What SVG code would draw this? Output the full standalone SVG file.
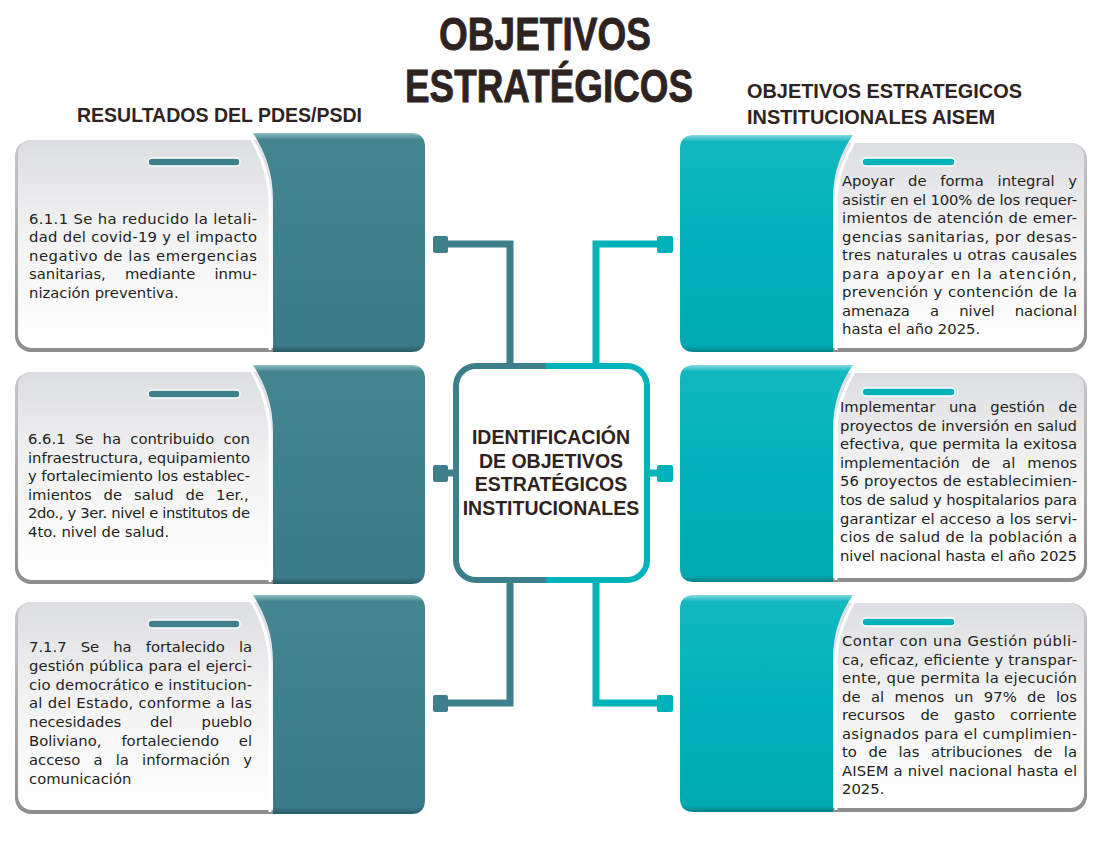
<svg xmlns="http://www.w3.org/2000/svg" xmlns:xlink="http://www.w3.org/1999/xlink" width="1100" height="850" viewBox="0 0 1100 850">
<style>
.ttl{font-family:"Liberation Sans",Arial,sans-serif;font-weight:bold;fill:#2e2320}
.big{stroke:#2e2320;stroke-width:0.8}
.body{font-family:"DejaVu Sans","Liberation Sans",sans-serif;font-size:14.8px;fill:#231f20}
.ctr{font-family:"Liberation Sans",Arial,sans-serif;font-weight:bold;font-size:19.5px;fill:#2e2320;text-anchor:middle}
.gshadow{fill:url(#gShade)}
.gface{fill:url(#gFace)}
.lc{stroke:#3e7f8c;stroke-width:7;fill:none}
.rc{stroke:#00b3bb;stroke-width:7;fill:none}
.lsq{fill:#3e7f8c}
.rsq{fill:#00b3bb}
</style>
<defs>
<linearGradient id="gShade" x1="0" y1="0" x2="0" y2="1">
<stop offset="0" stop-color="#c9c9cb"/><stop offset="1" stop-color="#8e8e8e"/>
</linearGradient>
<linearGradient id="gFace" x1="0" y1="0" x2="0" y2="1">
<stop offset="0" stop-color="#dddee1"/><stop offset="0.45" stop-color="#f2f2f3"/><stop offset="1" stop-color="#ffffff"/>
</linearGradient>
<linearGradient id="tealL" x1="0" y1="0" x2="0" y2="1">
<stop offset="0" stop-color="#8dbdc4"/><stop offset="0.03" stop-color="#44858f"/><stop offset="0.5" stop-color="#3f808d"/><stop offset="0.97" stop-color="#3b7a88"/><stop offset="1" stop-color="#285a64"/>
</linearGradient>
<linearGradient id="tealR" x1="0" y1="0" x2="0" y2="1">
<stop offset="0" stop-color="#86dadd"/><stop offset="0.03" stop-color="#12b7bf"/><stop offset="0.5" stop-color="#00b2ba"/><stop offset="0.97" stop-color="#00aab2"/><stop offset="1" stop-color="#008189"/>
</linearGradient>
<linearGradient id="split" x1="0" y1="0" x2="1" y2="0">
<stop offset="0" stop-color="#3e7f8c"/><stop offset="0.47" stop-color="#3e7f8c"/><stop offset="0.47" stop-color="#00b3bb"/><stop offset="1" stop-color="#00b3bb"/>
</linearGradient>
<g id="leftShape">
<rect class="gshadow" x="15" y="140" width="292" height="212" rx="16"/>
<rect class="gface" x="18" y="140" width="288" height="208" rx="14"/>
<path d="M249,135 C261,154 269,174 270,200 V350" fill="none" stroke="#ffffff" stroke-width="3"/>
<path d="M253,133 H411 Q425,133 425,147 V338 Q425,352 411,352 H273 V200 C273,172 265,152 253,133 Z" fill="url(#tealL)"/>
<rect x="148" y="158" width="92" height="8" rx="4" fill="#3f808d" stroke="#ffffff" stroke-width="1.5"/>
</g>
<g id="rightShape">
<rect class="gshadow" x="800" y="143" width="287" height="209" rx="16"/>
<rect class="gface" x="800" y="143" width="284" height="205" rx="14"/>
<path d="M857,137 C845,156 837,176 836,200 V350" fill="none" stroke="#ffffff" stroke-width="3"/>
<path d="M853,135 H694 Q680,135 680,149 V338 Q680,352 694,352 H833 V200 C833,172 841,152 853,135 Z" fill="url(#tealR)"/>
<rect x="862" y="158" width="93" height="8" rx="4" fill="#00b3bb" stroke="#ffffff" stroke-width="1.5"/>
</g>
</defs>

<g id="title">
<text class="ttl big" x="545" y="50" font-size="46" text-anchor="middle" textLength="212" lengthAdjust="spacingAndGlyphs">OBJETIVOS</text>
<text class="ttl big" x="549" y="102" font-size="46" text-anchor="middle" textLength="288" lengthAdjust="spacingAndGlyphs">ESTRATÉGICOS</text>
</g>
<g id="heading-left">
<text class="ttl" x="77" y="122" font-size="20" textLength="285" lengthAdjust="spacingAndGlyphs">RESULTADOS DEL PDES/PSDI</text>
</g>
<g id="heading-right">
<text class="ttl" x="747" y="98" font-size="20" textLength="275" lengthAdjust="spacingAndGlyphs">OBJETIVOS ESTRATEGICOS</text>
<text class="ttl" x="747" y="124" font-size="20" textLength="248" lengthAdjust="spacingAndGlyphs">INSTITUCIONALES AISEM</text>
</g>

<g id="connectors">
<path class="lc" d="M446,244 H510 V366"/>
<rect class="lsq" x="433" y="236" width="15" height="17" rx="2"/>
<path class="lc" d="M446,473 H457"/>
<rect class="lsq" x="433" y="465" width="15" height="17" rx="2"/>
<path class="lc" d="M510,580 V703 H446"/>
<rect class="lsq" x="433" y="695" width="15" height="17" rx="2"/>
<path class="rc" d="M659,244 H596 V366"/>
<rect class="rsq" x="657" y="236" width="16" height="17" rx="2"/>
<path class="rc" d="M646,473 H659"/>
<rect class="rsq" x="657" y="465" width="16" height="17" rx="2"/>
<path class="rc" d="M596,580 V703 H659"/>
<rect class="rsq" x="657" y="695" width="16" height="17" rx="2"/>
</g>

<g id="center">
<rect x="456" y="366" width="191" height="214" rx="20" fill="#ffffff" stroke="url(#split)" stroke-width="6"/>
<text class="ctr" x="551" y="444">IDENTIFICACIÓN</text>
<text class="ctr" x="551" y="467.5">DE OBJETIVOS</text>
<text class="ctr" x="551" y="491">ESTRATÉGICOS</text>
<text class="ctr" x="551" y="514.5">INSTITUCIONALES</text>
</g>

<g id="res-611">
<use xlink:href="#leftShape"/>
<text class="body">
<tspan x="29" y="224" textLength="228" lengthAdjust="spacing">6.1.1 Se ha reducido la letali-</tspan>
<tspan x="29" y="242.4" textLength="228" lengthAdjust="spacing">dad del covid-19 y el impacto</tspan>
<tspan x="29" y="260.8" textLength="228" lengthAdjust="spacing">negativo de las emergencias</tspan>
<tspan x="29" y="279.2">sanitarias,</tspan><tspan x="124.9">mediante</tspan><tspan x="214.4">inmu-</tspan>
<tspan x="29" y="297.6">nización preventiva.</tspan>
</text>
</g>

<g id="res-661">
<use xlink:href="#leftShape" y="232"/>
<text class="body">
<tspan x="28" y="444">6.6.1</tspan><tspan x="74.9">Se</tspan><tspan x="102.6">ha</tspan><tspan x="130.3">contribuido</tspan><tspan x="223.4">con</tspan>
<tspan x="28" y="462.5" textLength="222" lengthAdjust="spacing">infraestructura, equipamiento</tspan>
<tspan x="28" y="481" textLength="222" lengthAdjust="spacing">y fortalecimiento los establec-</tspan>
<tspan x="28" y="499.5">imientos</tspan><tspan x="103.6">de</tspan><tspan x="134">salud</tspan><tspan x="185.6">de</tspan><tspan x="216">1er.,</tspan>
<tspan x="28" y="518" textLength="222" lengthAdjust="spacing">2do., y 3er. nivel e institutos de</tspan>
<tspan x="28" y="536.5">4to. nivel de salud.</tspan>
</text>
</g>

<g id="res-717">
<use xlink:href="#leftShape" y="462"/>
<text class="body">
<tspan x="29" y="652">7.1.7</tspan><tspan x="80.7">Se</tspan><tspan x="113.2">ha</tspan><tspan x="145.7">fortalecido</tspan><tspan x="238.9">la</tspan>
<tspan x="29" y="670.8" textLength="223" lengthAdjust="spacing">gestión pública para el ejerci-</tspan>
<tspan x="29" y="689.6" textLength="223" lengthAdjust="spacing">cio democrático e institucion-</tspan>
<tspan x="29" y="708.4" textLength="223" lengthAdjust="spacing">al del Estado, conforme a las</tspan>
<tspan x="29" y="727.2">necesidades</tspan><tspan x="150">del</tspan><tspan x="201.5">pueblo</tspan>
<tspan x="29" y="746">Boliviano,</tspan><tspan x="121.4">fortaleciendo</tspan><tspan x="238.8">el</tspan>
<tspan x="29" y="764.8">acceso</tspan><tspan x="93.4">a</tspan><tspan x="115.7">la</tspan><tspan x="142.1">información</tspan><tspan x="243.3">y</tspan>
<tspan x="29" y="783.6">comunicación</tspan>
</text>
</g>

<g id="obj-1">
<use xlink:href="#rightShape"/>
<text class="body">
<tspan x="842" y="186">Apoyar</tspan><tspan x="908.1">de</tspan><tspan x="940.2">forma</tspan><tspan x="997.6">integral</tspan><tspan x="1068.3">y</tspan>
<tspan x="842" y="204.5" textLength="235" lengthAdjust="spacing">asistir en el 100% de los requer-</tspan>
<tspan x="842" y="223" textLength="235" lengthAdjust="spacing">imientos de atención de emer-</tspan>
<tspan x="842" y="241.5" textLength="235" lengthAdjust="spacing">gencias sanitarias, por desas-</tspan>
<tspan x="842" y="260" textLength="235" lengthAdjust="spacing">tres naturales u otras causales</tspan>
<tspan x="842" y="278.5" textLength="235" lengthAdjust="spacing">para apoyar en la atención,</tspan>
<tspan x="842" y="297" textLength="235" lengthAdjust="spacing">prevención y contención de la</tspan>
<tspan x="842" y="315.5">amenaza</tspan><tspan x="930">a</tspan><tspan x="959.2">nivel</tspan><tspan x="1014.7">nacional</tspan>
<tspan x="842" y="334">hasta el año 2025.</tspan>
</text>
</g>

<g id="obj-2">
<use xlink:href="#rightShape" y="230"/>
<text class="body">
<tspan x="840" y="412">Implementar</tspan><tspan x="948.9">una</tspan><tspan x="990.3">gestión</tspan><tspan x="1058.5">de</tspan>
<tspan x="840" y="430.6" textLength="237" lengthAdjust="spacing">proyectos de inversión en salud</tspan>
<tspan x="840" y="449.2" textLength="237" lengthAdjust="spacing">efectiva, que permita la exitosa</tspan>
<tspan x="840" y="467.8">implementación</tspan><tspan x="971.6">de</tspan><tspan x="1002.1">al</tspan><tspan x="1027.3">menos</tspan>
<tspan x="840" y="486.4" textLength="237" lengthAdjust="spacing">56 proyectos de establecimien-</tspan>
<tspan x="840" y="505" textLength="237" lengthAdjust="spacing">tos de salud y hospitalarios para</tspan>
<tspan x="840" y="523.6" textLength="237" lengthAdjust="spacing">garantizar el acceso a los servi-</tspan>
<tspan x="840" y="542.2" textLength="237" lengthAdjust="spacing">cios de salud de la población a</tspan>
<tspan x="840" y="560.8" textLength="237" lengthAdjust="spacing">nivel nacional hasta el año 2025</tspan>
</text>
</g>

<g id="obj-3">
<use xlink:href="#rightShape" y="460"/>
<text class="body">
<tspan x="842" y="646" textLength="235" lengthAdjust="spacing">Contar con una Gestión públi-</tspan>
<tspan x="842" y="664.5" textLength="235" lengthAdjust="spacing">ca, eficaz, eficiente y transpar-</tspan>
<tspan x="842" y="683" textLength="235" lengthAdjust="spacing">ente, que permita la ejecución</tspan>
<tspan x="842" y="701.5">de</tspan><tspan x="870.9">al</tspan><tspan x="894.5">menos</tspan><tspan x="954.6">un</tspan><tspan x="983.8">97%</tspan><tspan x="1027.1">de</tspan><tspan x="1056">los</tspan>
<tspan x="842" y="720">recursos</tspan><tspan x="920.4">de</tspan><tspan x="954">gasto</tspan><tspan x="1010.1">corriente</tspan>
<tspan x="842" y="738.5" textLength="235" lengthAdjust="spacing">asignados para el cumplimien-</tspan>
<tspan x="842" y="757">to</tspan><tspan x="868.5">de</tspan><tspan x="898.5">las</tspan><tspan x="931">atribuciones</tspan><tspan x="1033.8">de</tspan><tspan x="1063.8">la</tspan>
<tspan x="842" y="775.5" textLength="235" lengthAdjust="spacing">AISEM a nivel nacional hasta el</tspan>
<tspan x="842" y="794">2025.</tspan>
</text>
</g>
</svg>
